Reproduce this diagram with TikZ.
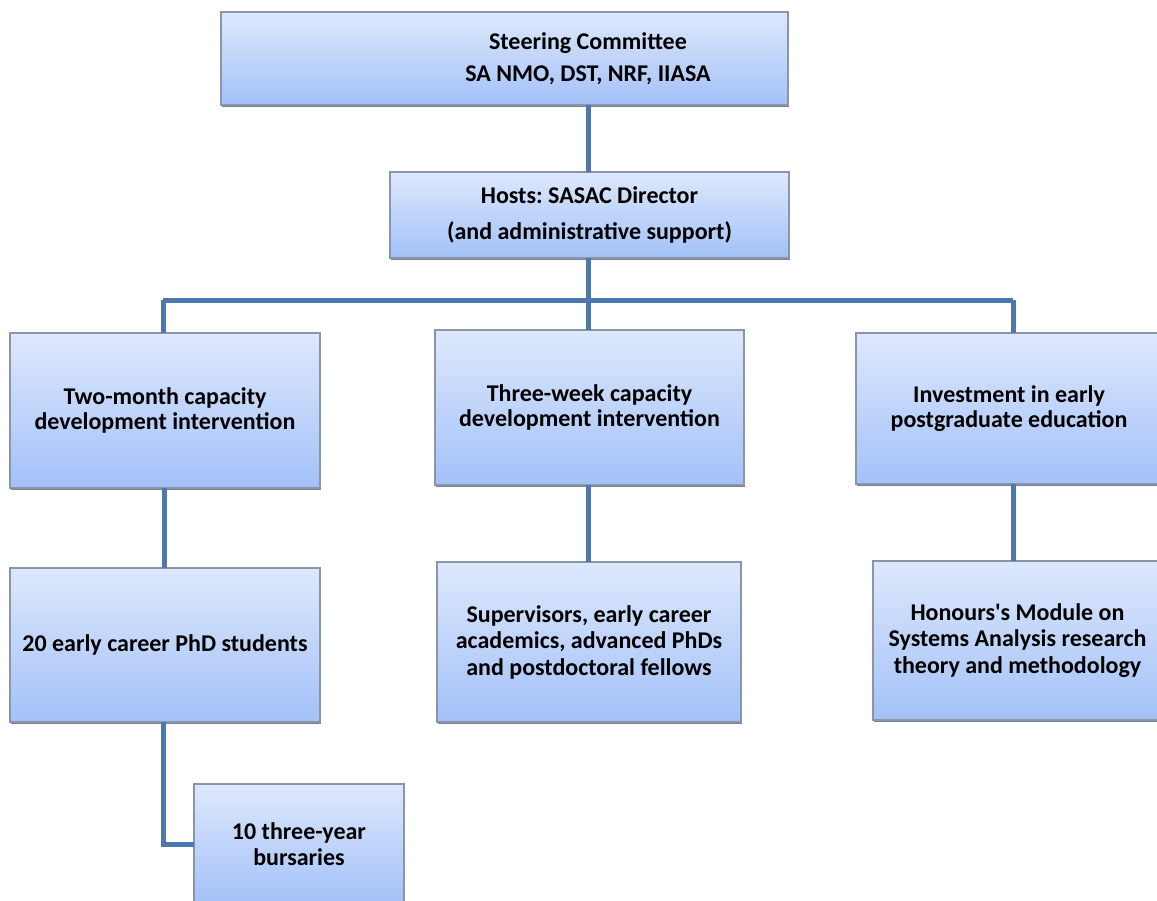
\documentclass[tikz,border=0pt]{standalone}
\usepackage{fontspec}
\setmainfont{Carlito}
\usetikzlibrary{shadows}
\frenchspacing
\begin{document}
\begin{tikzpicture}[x=1pt,y=-1pt,
  boxstyle/.style={draw=boxborder, line width=1.2pt, top color=boxtop, bottom color=boxbot,
    inner sep=0pt, outer sep=0pt, align=center, font=\fontsize{24}{25.5}\selectfont\bfseries,
    text=black, drop shadow={shadow xshift=1.2pt, shadow yshift=-2.2pt, fill=shadowc, opacity=0.85}},
  boxtext/.style={inner sep=0pt, align=center, font=\fontsize{24}{25.5}\selectfont\bfseries, text=black},
  conn/.style={draw=connc, line width=5pt, line cap=butt, line join=miter}]
\definecolor{boxtop}{HTML}{DDE8FC}
\definecolor{boxbot}{HTML}{A3C1F8}
\definecolor{boxborder}{HTML}{8A95A8}
\definecolor{shadowc}{HTML}{5E6C84}
\definecolor{connc}{HTML}{4C78AE}
\useasboundingbox (0,0) rectangle (1157,900);
\fill[white] (0,0) rectangle (1157,900);
\newcommand{\mkbox}[6]{%
  \node[boxstyle, minimum width={(#4-#2)*1pt}, minimum height={(#5-#3)*1pt}]
    (#1) at ({(#2+#4)/2},{(#3+#5)/2}) {#6};}
% boxes
\mkbox{steer}{221}{12}{788}{105}{}
\node[boxtext] (steertext) at (588,58.5) {Steering Committee\\[7pt]SA NMO, DST, NRF, IIASA};
\mkbox{hosts}{390}{172}{789}{258}{Hosts: SASAC Director\\[10pt](and administrative support)}
\mkbox{two}{10}{333}{320}{488}{Two-month capacity\\development intervention}
\mkbox{three}{435}{330}{744}{485}{Three-week capacity\\development intervention}
\mkbox{inv}{856}{333}{1162}{484}{Investment in early\\postgraduate education}
\mkbox{phd}{10}{568}{320}{722}{20 early career PhD students}
\mkbox{sup}{437}{562}{741}{722}{Supervisors, early career\\[1pt]academics, advanced PhDs\\[1pt]and postdoctoral fellows}
\mkbox{hon}{873}{561}{1162}{720}{Honours\textquotesingle s Module on\\[1pt]Systems Analysis research\\[1pt]theory and methodology}
\mkbox{burs}{194}{784}{404}{904}{10 three-year\\bursaries}
% connectors
\coordinate (jM) at (588,300);
\coordinate (jL) at (163,300);
\coordinate (jR) at (1013,300);
\coordinate (cL) at (164,0);
\coordinate (bend) at (burs.west -| jL);
\draw[conn] (steer.south -| jM) -- (hosts.north -| jM);
\draw[conn] (hosts.south -| jM) -- (jM);
\draw[conn] (jL) -- (jR);
\draw[conn] (jL) -- (two.north -| jL);
\draw[conn] (jM) -- (three.north -| jM);
\draw[conn] (jR) -- (inv.north -| jR);
\draw[conn] (two.south -| cL) -- (phd.north -| cL);
\draw[conn] (three.south -| jM) -- (sup.north -| jM);
\draw[conn] (inv.south -| jR) -- (hon.north -| jR);
\draw[conn] (phd.south -| jL) -- (bend) -- (burs.west);
\end{tikzpicture}
\end{document}
